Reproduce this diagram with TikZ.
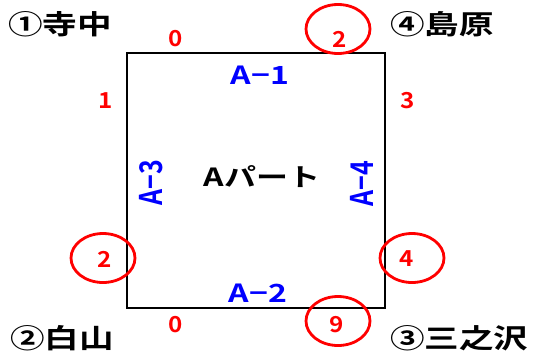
\documentclass[tikz,border=0pt]{standalone}
\usepackage{fontspec}
\usepackage{graphicx}
\usepackage{tikz}
\usetikzlibrary{shapes.geometric}
\newfontfamily\jpwide[FakeStretch=1.28]{Noto Sans CJK JP Bold}
\newfontfamily\jpnum[FakeStretch=1.1]{Noto Sans CJK JP Bold}
\newfontfamily\jpplain{Noto Sans CJK JP Bold}
\definecolor{ptred}{HTML}{FF0000}
\definecolor{ptblue}{HTML}{0000FF}
\tikzset{
  place/.style={font=\jpwide\fontsize{27}{27}\selectfont,text=black,inner sep=0pt},
  num/.style={font=\jpnum\fontsize{22}{22}\selectfont,text=ptred,inner sep=0pt},
  side/.style={font=\jpwide\fontsize{25}{25}\selectfont,text=ptblue,inner sep=0pt},
  ring/.style={ellipse,draw=ptred,line width=2.8pt,minimum width=64pt,minimum height=49pt,inner sep=0pt},
}
\newcommand{\upside}[1]{\scalebox{1}[1.25]{\jpplain\fontsize{25}{25}\selectfont #1}}
\begin{document}
\begin{tikzpicture}[x=1pt,y=-1pt]
  \useasboundingbox (0,0) rectangle (535,360);
  % part square
  \draw[line width=1.4pt] (127,53) rectangle (385,308);
  \node[font=\jpwide\fontsize{25}{25}\selectfont,inner sep=0pt] (part) at (262,177) {Aパート};
  % sides
  \node[side] (a1) at (260,75) {A−1};
  \node[side] (a2) at (258,293) {A−2};
  \node[text=ptblue,inner sep=0pt,rotate=90] (a3) at (151,183) {\upside{A−3}};
  \node[text=ptblue,inner sep=0pt,rotate=90] (a4) at (362,184) {\upside{A−4}};
  % corner places
  \node[place,anchor=west] (p1) at (8,24) {①寺中};
  \node[place,anchor=west] (p4) at (390,24) {④島原};
  \node[place,anchor=west] (p2) at (10,338) {②白山};
  \node[place,anchor=west] (p3) at (390,338) {③三之沢};
  % numbers
  \node[num] (n0t) at (176,39) {0};
  \node[num] (n1) at (106,101) {1};
  \node[num] (n3) at (408,101) {3};
  \node[num] (n0b) at (176,325) {0};
  \node[num] (n2t) at (340,39) {2};
  \node[num] (n2l) at (105,259) {2};
  \node[num] (n4) at (407,259) {4};
  \node[num] (n9) at (337,325) {9};
  % rings
  \node[ring] (r2t) at (338,29) {};
  \node[ring] (r2l) at (103,258) {};
  \node[ring] (r4) at (412,258) {};
  \node[ring] (r9) at (338,321) {};
\end{tikzpicture}
\end{document}
